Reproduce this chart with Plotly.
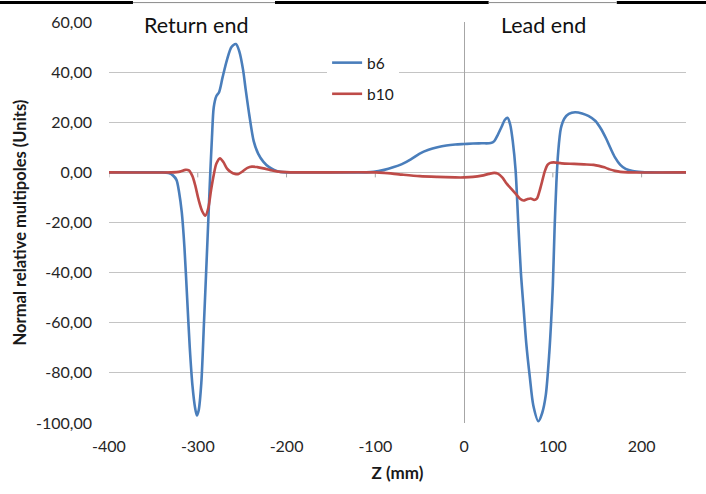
import plotly.graph_objects as go

# ---- data ----
z_b6 = [-400, -350, -340, -333, -328, -324, -321, -318, -315, -312, -309, -306, -303, -301, -299, -296, -293, -290,
        -288, -286, -284, -282, -279, -276, -272, -267, -262, -257, -253, -249, -246, -242, -237, -232,
        -226, -220, -214, -207, -200, -150, -110, -102, -90, -80, -70, -60, -50, -40, -30, -20, -10, 0,
        10, 20, 30, 34, 38, 42, 46, 49, 52, 55, 58, 61, 64, 67, 70, 74, 78, 83.7, 88, 92, 96, 98, 100,
        102, 104, 106, 109, 113, 118, 125, 133, 140, 148, 154, 160, 165, 170, 176, 182, 190, 200, 210, 250]
b6 = [0, 0, 0, -0.3, -1.2, -3, -8, -16, -30, -50, -70, -85, -94, -97, -95, -84, -60, -35,
      -18, -1, 14, 26, 30.5, 32, 38, 45, 50, 51.2, 48, 41, 33, 23, 12.5, 7.5,
      4.2, 2.2, 1, 0.2, 0, 0, 0, 0.2, 1, 2, 3.3, 5.2, 7.5, 9, 10, 10.7, 11.1, 11.3,
      11.5, 11.6, 11.7, 12.5, 15, 18, 21, 21.8, 19, 12, 1, -20, -40, -54, -68, -81.5, -93, -99.3, -96, -89, -72, -60, -45,
      -22, -4, 8, 17.5, 21.5, 23.3, 24, 23.5, 22.5, 20.5, 17.5, 13.5, 9.6, 6, 3, 1.4, 0.5, 0.1, 0, 0]

z_b10 = [-400, -330, -320, -314, -310, -306, -303, -299, -295, -291.5, -288, -285, -282, -279, -275, -271,
         -267, -263, -258, -254, -249, -244, -239, -233, -226, -218, -211, -200, -190, -100, -90, -70, -50,
         -30, -10, 0, 10, 20, 28, 34, 38, 43, 48, 53, 58, 63, 67, 71, 75, 79, 82, 85, 88, 91, 94, 97, 101,
         110, 124, 135, 146, 152, 158, 164, 170, 176, 185, 250]
b10 = [0, 0, 0.3, 1, 0.8, -1.5, -5, -11, -15.5, -17.3, -14, -7, -1, 3.5, 5.6, 4,
       1.5, 0.2, -0.6, -0.6, 0.5, 1.8, 2.3, 2.1, 1.6, 0.9, 0.4, 0.1, 0, 0, -0.2, -0.9, -1.5,
       -1.8, -2, -2, -1.8, -1.3, -0.6, -0.2, -0.5, -2, -4.5, -6.5, -8.5, -10.5, -11.2, -10.7, -10.4, -11, -10.5, -7.5, -3.5, 0.5, 3, 3.8, 4,
       3.6, 3.4, 3.2, 3.0, 2.6, 2.0, 1.2, 0.6, 0.2, 0, 0]

x_ticks = [-400, -300, -200, -100, 0, 100, 200]
x_tick_labels = ["-400", "-300", "-200", "-100", "0", "100", "200"]
y_ticks = [-100, -80, -60, -40, -20, 0, 20, 40, 60]
y_tick_labels = ["-100,00", "-80,00", "-60,00", "-40,00", "-20,00", "0,00", "20,00", "40,00", "60,00"]

FONT = "Lato"
BLUE = "#4A7EBB"
RED = "#BE4B48"
GRID = "#c4c4c4"

fig = go.Figure()
fig.add_trace(go.Scatter(x=z_b6, y=b6, mode="lines", name="b6", legendgroup="a",
                         line=dict(color=BLUE, width=2.6, shape="spline", smoothing=0.8)))
fig.add_trace(go.Scatter(x=z_b10, y=b10, mode="lines", name="b10", legendgroup="b",
                         line=dict(color=RED, width=2.6, shape="spline", smoothing=0.8)))

# small tick marks on the horizontal axis line (y = 0)
for t in x_ticks:
    fig.add_shape(type="line", xref="x", yref="y", x0=t, x1=t, y0=0, y1=-2,
                  line=dict(color="#a6a6a6", width=1), layer="below")

# top border line of the picture and white boxes behind the headings
fig.add_shape(type="line", xref="paper", yref="paper", x0=-0.2, x1=1.05, y0=1.0484, y1=1.0484,
              line=dict(color="black", width=3), layer="above")
for x0, x1 in [(-373, -213), (27.7, 172)]:
    fig.add_shape(type="rect", xref="x", yref="paper", x0=x0, x1=x1, y0=0.984, y1=1.06,
                  fillcolor="white", line=dict(width=0), layer="above")
    fig.add_shape(type="line", xref="x", yref="paper", x0=x0, x1=x1, y0=1.0484, y1=1.0484,
                  line=dict(color="#8a8a8a", width=1), layer="above")

fig.add_annotation(text="Return end", x=-302, y=59, xref="x", yref="y", showarrow=False,
                   xanchor="center", yanchor="middle", font=dict(family=FONT, size=21.5, color="#111111"))
fig.add_annotation(text="Lead end", x=90, y=59, xref="x", yref="y", showarrow=False,
                   xanchor="center", yanchor="middle", font=dict(family=FONT, size=21.5, color="#111111"))

fig.update_layout(
    width=706, height=494,
    margin=dict(l=109, r=20, t=20, b=71),
    paper_bgcolor="white", plot_bgcolor="white",
    font=dict(family=FONT, size=16, color="#262626"),
    showlegend=True,
    legend=dict(x=0.378, y=0.94, xanchor="left", yanchor="top", bgcolor="white",
                font=dict(family=FONT, size=15.5, color="#1a1a1a"), tracegroupgap=8,
                borderwidth=0),
    xaxis=dict(range=[-400, 250], tickvals=x_ticks, ticktext=x_tick_labels,
               showgrid=False, zeroline=True, zerolinecolor="#a6a6a6", zerolinewidth=1,
               showline=False, ticks="", ticklabelstandoff=12,
               tickfont=dict(family=FONT, size=16, color="#262626"),
               title=dict(text="<b>Z (mm)</b>", font=dict(family=FONT, size=17, color="#1a1a1a"), standoff=13)),
    yaxis=dict(range=[-100, 60], tickvals=y_ticks, ticktext=y_tick_labels,
               showgrid=True, gridcolor=GRID, gridwidth=1, zeroline=False,
               showline=False, ticks="", ticklabelstandoff=16,
               tickfont=dict(family=FONT, size=16, color="#262626"),
               title=dict(text="<b>Normal relative multipoles (Units)</b>",
                          font=dict(family=FONT, size=16.5, color="#1a1a1a"), standoff=5)),
)

fig.write_html("out.html")
